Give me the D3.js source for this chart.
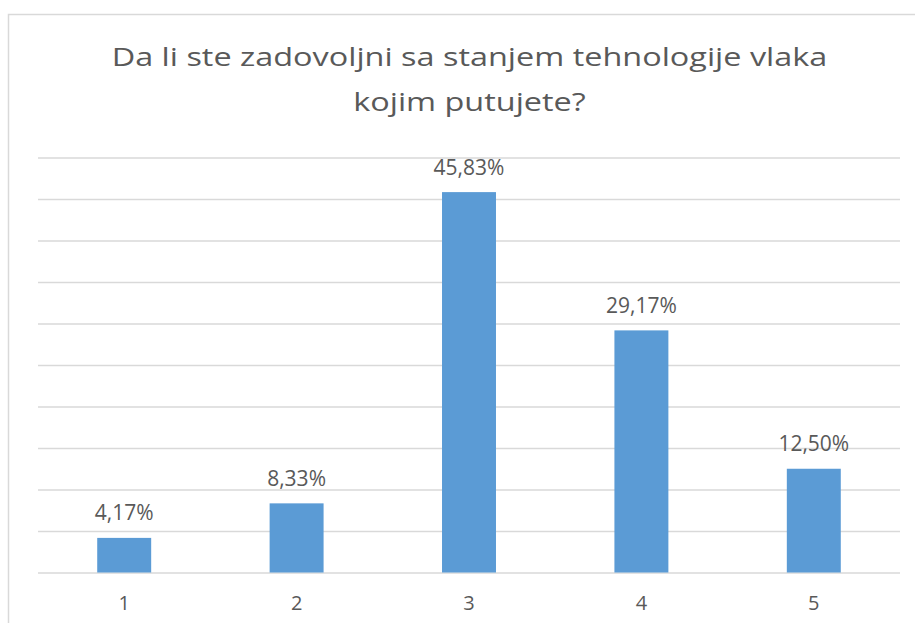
<!DOCTYPE html>
<html>
<head>
<meta charset="utf-8">
<script src="https://cdn.jsdelivr.net/npm/d3@7"></script>
<style>
  body { margin: 0; background: #fff; }
  text { font-family: "Open Sans", sans-serif; fill: #595959; }
</style>
</head>
<body>
<svg id="chart"></svg>
<script>
// survey answers (1-5) and their share in percent
const categories = ["1", "2", "3", "4", "5"];
const shares = [4.17, 8.33, 45.83, 29.17, 12.50];
const labels = ["4,17%", "8,33%", "45,83%", "29,17%", "12,50%"];
const gridTicks = [0, 5, 10, 15, 20, 25, 30, 35, 40, 45, 50];
const titleLines = ["Da li ste zadovoljni sa stanjem tehnologije vlaka", "kojim putujete?"];

var width = 915, height = 623;
var margin = { top: 157.5, left: 38, right: 15, bottom: 50 };

var svg = d3.select("#chart")
  .attr("width", width)
  .attr("height", height);

// outer chart border (runs off the right and bottom of the picture)
svg.append("rect")
  .attr("x", 8.5).attr("y", 14.5)
  .attr("width", 1000).attr("height", 1000)
  .attr("fill", "none")
  .attr("stroke", "#d9d9d9")
  .attr("stroke-width", 1.5);

var x = d3.scaleBand()
  .domain(categories)
  .range([margin.left, width - margin.right])
  .paddingInner(0.687)
  .paddingOuter(0.3435);

var y = d3.scaleLinear()
  .domain([0, 50])
  .range([572.5, margin.top]);

// gridlines
var grid = svg.append("g")
  .attr("transform", "translate(" + margin.left + ",0)")
  .call(d3.axisLeft(y).tickValues(gridTicks).tickSize(-(width - margin.right - margin.left)).tickFormat(""));
grid.select(".domain").remove();
grid.selectAll("line").attr("stroke", "#d9d9d9").attr("stroke-width", 1.5);

// bars
svg.selectAll("rect.bar")
  .data(shares)
  .enter().append("rect")
  .attr("class", "bar")
  .attr("x", function(d, i) { return x(categories[i]); })
  .attr("y", function(d) { return y(d); })
  .attr("width", x.bandwidth())
  .attr("height", function(d) { return y(0) - y(d); })
  .attr("fill", "#5b9bd5");

// value labels
svg.selectAll("text.val")
  .data(shares)
  .enter().append("text")
  .attr("class", "val")
  .attr("x", function(d, i) { return x(categories[i]) + x.bandwidth() / 2; })
  .attr("y", function(d) { return y(d) - 17.5; })
  .attr("text-anchor", "middle")
  .style("font-size", "21px")
  .text(function(d, i) { return labels[i]; });

// category axis (labels only)
var xAxis = svg.append("g")
  .attr("transform", "translate(0," + y(0) + ")")
  .call(d3.axisBottom(x).tickSize(0).tickPadding(0));
xAxis.select(".domain").remove();
xAxis.selectAll("text")
  .attr("dy", null)
  .attr("y", 37.5)
  .style("font-size", "20px")
  .style("fill", "#595959")
  .style("font-family", "'Open Sans', sans-serif");

// title - the original text is stretched sideways, so widen it to match
var title = svg.selectAll("text.title")
  .data(titleLines)
  .enter().append("text")
  .attr("class", "title")
  .attr("x", 0)
  .attr("y", 0)
  .attr("text-anchor", "middle")
  .style("font-size", "26px")
  .text(function(d) { return d; });

var sx = 716 / title.node().getComputedTextLength();
title.attr("transform", function(d, i) {
  return "translate(469.5," + (66 + i * 45) + ") scale(" + sx + ",1)";
});
</script>
</body>
</html>
